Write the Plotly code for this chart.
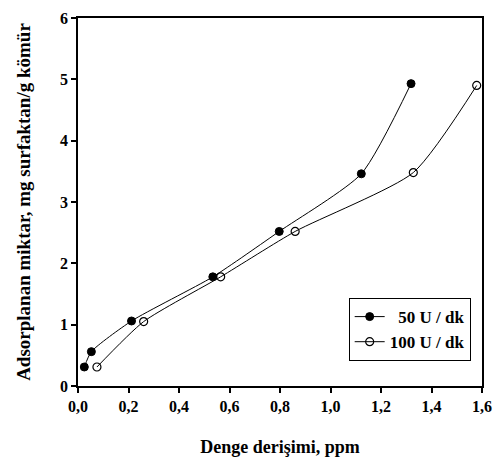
import plotly.graph_objects as go

x50 = [0.025, 0.053, 0.212, 0.534, 0.797, 1.122, 1.319]
y50 = [0.31, 0.56, 1.06, 1.78, 2.52, 3.46, 4.93]
x100 = [0.075, 0.26, 0.565, 0.86, 1.328, 1.579]
y100 = [0.31, 1.05, 1.78, 2.52, 3.48, 4.90]
xticks = [0, 0.2, 0.4, 0.6, 0.8, 1.0, 1.2, 1.4, 1.6]
xticklabels = ["0,0", "0,2", "0,4", "0,6", "0,8", "1,0", "1,2", "1,4", "1,6"]
yticks = [0, 1, 2, 3, 4, 5, 6]

font = "Liberation Serif"

fig = go.Figure()
fig.add_trace(go.Scatter(
    x=x50, y=y50, name="  50 U / dk", mode="lines+markers",
    line=dict(color="black", width=1, shape="spline", smoothing=0.6),
    marker=dict(symbol="circle", size=8, color="black", line=dict(color="black", width=1)),
))
fig.add_trace(go.Scatter(
    x=x100, y=y100, name="100 U / dk", mode="lines+markers",
    line=dict(color="black", width=1, shape="spline", smoothing=0.6),
    marker=dict(symbol="circle-open", size=8, color="black", line=dict(color="black", width=1.2)),
))

fig.update_layout(
    width=502, height=466,
    margin=dict(l=78, r=10, t=13, b=80),
    paper_bgcolor="white", plot_bgcolor="white",
    font=dict(family=font, color="black", size=13),
    showlegend=True,
    legend=dict(
        x=0.67, y=0.239, xanchor="left", yanchor="top",
        bordercolor="black", borderwidth=1, bgcolor="white",
        font=dict(family=font, size=17, color="black", weight="bold"),
        itemwidth=30,
    ),
    xaxis=dict(
        range=[0, 1.6], tickvals=xticks, ticktext=xticklabels,
        showgrid=False, zeroline=False,
        showline=True, linecolor="black", linewidth=1.5, mirror=True,
        ticks="outside", ticklen=5, tickcolor="black", tickwidth=1.5,
        tickfont=dict(family=font, size=16, weight="bold"),
        title=dict(text="Denge derişimi, ppm", standoff=26,
                   font=dict(family=font, size=18, weight="bold")),
    ),
    yaxis=dict(
        range=[0, 6], tickvals=yticks,
        showgrid=False, zeroline=False,
        showline=True, linecolor="black", linewidth=1.5, mirror=True,
        ticks="outside", ticklen=5, tickcolor="black", tickwidth=1.5,
        tickfont=dict(family=font, size=16, weight="bold"),
        title=dict(text="Adsorplanan miktar, mg surfaktan/g kömür", standoff=24,
                   font=dict(family=font, size=19, weight="bold")),
    ),
)

fig.write_html("out.html")
